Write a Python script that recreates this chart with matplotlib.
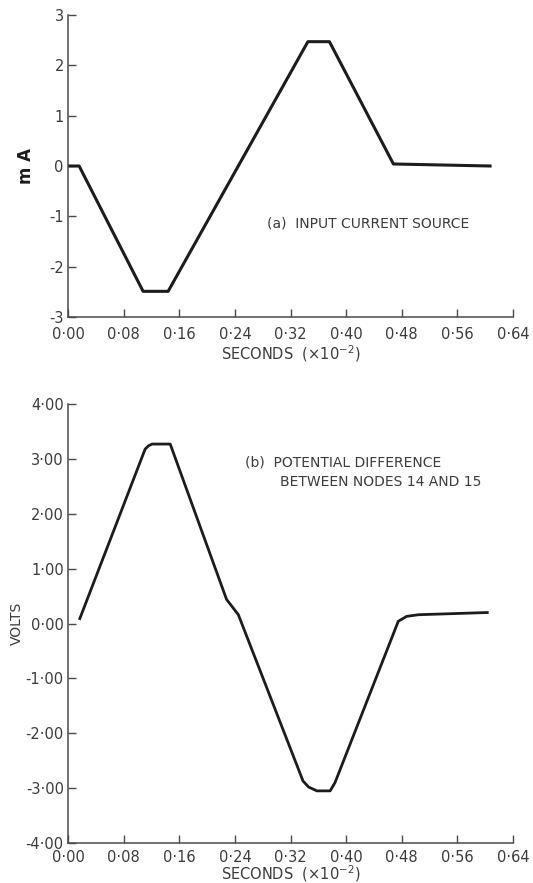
import matplotlib
matplotlib.use("Agg")
import matplotlib.pyplot as plt
from matplotlib.ticker import FixedLocator

# Input current source (mA) versus time (seconds x 1e-2)
t_current = [0.000, 0.016, 0.108, 0.144, 0.345, 0.376, 0.468, 0.607]
i_current = [0.00, 0.00, -2.49, -2.49, 2.47, 2.47, 0.04, 0.00]

# Potential difference between nodes 14 and 15 (volts)
t_volts = [0.017, 0.111, 0.116, 0.121, 0.147, 0.228, 0.245, 0.338,
           0.346, 0.358, 0.377, 0.384, 0.475, 0.487, 0.504, 0.603]
v_volts = [0.09, 3.18, 3.24, 3.27, 3.27, 0.44, 0.16, -2.87,
           -2.98, -3.05, -3.05, -2.90, 0.04, 0.13, 0.16, 0.20]

x_ticks = [0.00, 0.08, 0.16, 0.24, 0.32, 0.40, 0.48, 0.56, 0.64]
x_ticklabels = ["0·00", "0·08", "0·16", "0·24", "0·32", "0·40", "0·48", "0·56", "0·64"]
ya_ticks = [-3, -2, -1, 0, 1, 2, 3]
ya_ticklabels = ["-3", "-2", "-1", "0", "1", "2", "3"]
yb_ticks = [-4, -3, -2, -1, 0, 1, 2, 3, 4]
yb_ticklabels = ["-4·00", "-3·00", "-2·00", "-1·00", "0·00", "1·00", "2·00", "3·00", "4·00"]

ink = "#1c1c1c"
text_col = "#3c3c3c"
plt.rcParams["font.family"] = ["DejaVu Sans"]
plt.rcParams["mathtext.fontset"] = "dejavusans"

fig = plt.figure(figsize=(5.33, 8.83), dpi=100)
fig.patch.set_facecolor("white")

W, H = 533, 883
ax_a = fig.add_axes([68 / W, 1 - 317 / H, 445 / W, 302 / H])
ax_b = fig.add_axes([68 / W, 1 - 843 / H, 445 / W, 439 / H])


def style(ax, xpad, lpad):
    for side in ("top", "right"):
        ax.spines[side].set_visible(False)
    for side in ("left", "bottom"):
        ax.spines[side].set_color("#4a4a4a")
        ax.spines[side].set_linewidth(1.1)
    ax.tick_params(direction="in", length=6, width=1.0, color="#4a4a4a",
                   labelcolor=text_col, labelsize=10.5)
    ax.tick_params(axis="x", pad=xpad)
    ax.tick_params(axis="y", pad=3)
    ax.xaxis.set_major_locator(FixedLocator(x_ticks))
    ax.set_xticklabels(x_ticklabels)
    ax.set_xlim(0, 0.64)
    ax.set_xlabel("SECONDS  $(\\times10^{-2})$", color=text_col, fontsize=10.5,
                  labelpad=lpad)


# (a) input current
ax_a.plot(t_current, i_current, color=ink, lw=2.2, solid_joinstyle="round")
style(ax_a, 7, 1)
ax_a.set_ylim(-3, 3)
ax_a.yaxis.set_major_locator(FixedLocator(ya_ticks))
ax_a.set_yticklabels(ya_ticklabels)
ax_a.set_ylabel("m A", fontsize=12, fontweight="bold", color=ink, labelpad=10)
ax_a.text(0.286, -1.14, "(a)  INPUT CURRENT SOURCE", fontsize=10, color=text_col,
          ha="left", va="center")

# (b) potential difference
ax_b.plot(t_volts, v_volts, color=ink, lw=2.0, solid_joinstyle="round")
style(ax_b, 5, -1)
ax_b.set_ylim(-4, 4)
ax_b.yaxis.set_major_locator(FixedLocator(yb_ticks))
ax_b.set_yticklabels(yb_ticklabels)
ax_b.set_ylabel("VOLTS", fontsize=10, color=text_col, labelpad=1)
ax_b.text(0.255, 2.93, "(b)  POTENTIAL DIFFERENCE", fontsize=10, color=text_col,
          ha="left", va="center")
ax_b.text(0.305, 2.58, "BETWEEN NODES 14 AND 15", fontsize=10, color=text_col,
          ha="left", va="center")

fig.savefig("out.png", dpi=100, facecolor="white")
